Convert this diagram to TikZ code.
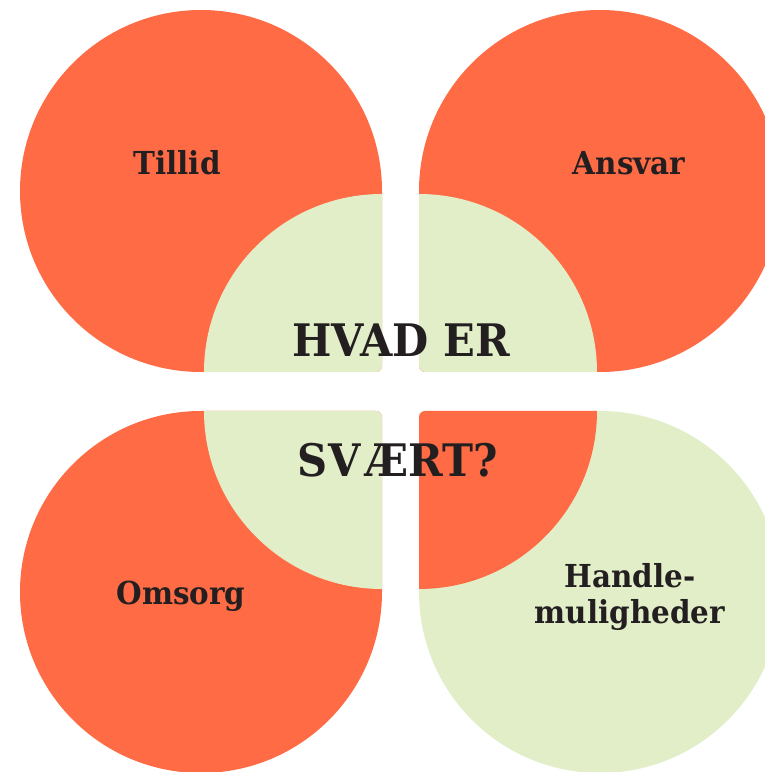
\documentclass[tikz,border=0pt]{standalone}
\usepackage{fontspec}
\setmainfont{DejaVu Serif}[FakeStretch=0.93]
\definecolor{leaf_orange}{RGB}{255,107,69}
\definecolor{leaf_green}{RGB}{226,238,200}
\definecolor{ink}{RGB}{35,31,32}
% #1 centre, #2 rotation, #3 outer colour, #4 inner colour
\newcommand{\leaf}[4]{%
	\begin{scope}[shift={#1},rotate=#2]
		\fill[#3] (181,0) -- (181,-175) arc[start angle=0,end angle=-90,radius=6] -- (0,-181)
			arc[start angle=-90,end angle=-360,radius=181] -- cycle;
		\fill[#4] (181,-3) -- (181,-175) arc[start angle=0,end angle=-90,radius=6] -- (3,-181)
			arc[start angle=180,end angle=90,radius=178] -- cycle;
	\end{scope}}

\begin{document}
\begin{tikzpicture}[x=0.02cm,y=0.02cm,
	word_node/.style={text=ink,anchor=base,inner sep=0pt,font=\bfseries\fontsize{18}{20.5}\selectfont},
	big_node/.style={word_node,font=\bfseries\fontsize{25.5}{30}\selectfont}]

		\clip (0,0) rectangle (765,772);

		\leaf{(201,581)}{0}{leaf_orange}{leaf_green}
		\leaf{(600,581)}{-90}{leaf_orange}{leaf_green}
		\leaf{(201,180)}{90}{leaf_orange}{leaf_green}
		\leaf{(600,180)}{180}{leaf_green}{leaf_orange}

		\node[word_node] (tillid) at (177,597) {Tillid};
		\node[word_node] (ansvar) at (629,597) {Ansvar};
		\node[word_node] (omsorg) at (181,167) {Omsorg};
		\node[word_node,align=center,anchor=center] (handle) at (630,175) {Handle-\\muligheder};
		\node[big_node] (hvad) at (401,415) {HVAD ER};
		\node[big_node] (svaert) at (398,295) {SV\kern3pt ÆRT?};
		\end{tikzpicture}
\end{document}
